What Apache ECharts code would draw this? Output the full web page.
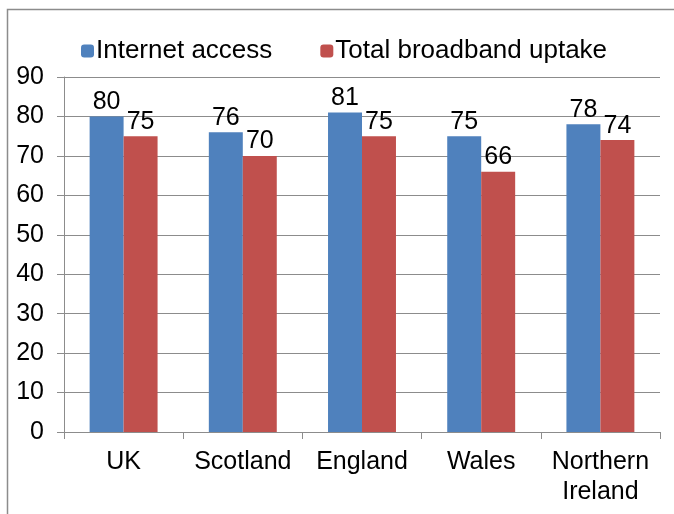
<!DOCTYPE html>
<html>
<head>
<meta charset="utf-8">
<script src="https://cdn.jsdelivr.net/npm/echarts@6/dist/echarts.min.js"></script>
<style>
  html, body { margin: 0; padding: 0; background: #fff; }
  #chart { width: 674px; height: 514px; }
</style>
</head>
<body>
<div id="chart"></div>
<script>
const regions = ['UK', 'Scotland', 'England', 'Wales', 'Northern\nIreland']
const internetAccess = [80, 76, 81, 75, 78]
const broadbandUptake = [75, 70, 75, 66, 74]

const font = 'Liberation Sans, Arial, sans-serif'
const chart = echarts.init(document.getElementById('chart'))

const labelStyle = {
  show: true,
  position: 'top',
  distance: 2,
  fontFamily: font,
  fontSize: 25,
  color: '#000'
}

chart.setOption({
  animation: false,
  graphic: [{
    type: 'rect',
    shape: { x: 7.5, y: 9.5, width: 700, height: 600 },
    style: { fill: 'none', stroke: '#8c8c8c', lineWidth: 1.5 },
    silent: true
  }],
  legend: {
    top: 33,
    left: 76,
    itemWidth: 13,
    itemHeight: 13,
    itemGap: 48,
    textStyle: { fontFamily: font, fontSize: 26, color: '#000', padding: [0, 0, 0, -3] },
    data: ['Internet access', 'Total broadband uptake']
  },
  grid: { left: 64, right: 14, top: 77, bottom: 82 },
  xAxis: {
    type: 'category',
    data: regions,
    axisLine: { lineStyle: { color: '#8c8c8c' } },
    axisTick: { show: true, length: 7, lineStyle: { color: '#8c8c8c' } },
    axisLabel: {
      interval: 0,
      fontFamily: font,
      fontSize: 25,
      color: '#000',
      margin: 15,
      lineHeight: 30
    }
  },
  yAxis: {
    type: 'value',
    min: 0,
    max: 90,
    interval: 10,
    axisLine: { show: true, lineStyle: { color: '#8c8c8c' } },
    axisTick: { show: true, length: 7, lineStyle: { color: '#8c8c8c' } },
    splitLine: { lineStyle: { color: '#8c8c8c' } },
    axisLabel: { fontFamily: font, fontSize: 25, color: '#000', margin: 20 }
  },
  series: [
    {
      name: 'Internet access',
      type: 'bar',
      data: internetAccess,
      barGap: '0%',
      barCategoryGap: '43%',
      itemStyle: { color: '#4f81bd' },
      label: labelStyle
    },
    {
      name: 'Total broadband uptake',
      type: 'bar',
      data: broadbandUptake,
      itemStyle: { color: '#c0504d' },
      label: labelStyle
    }
  ]
})
</script>
</body>
</html>
